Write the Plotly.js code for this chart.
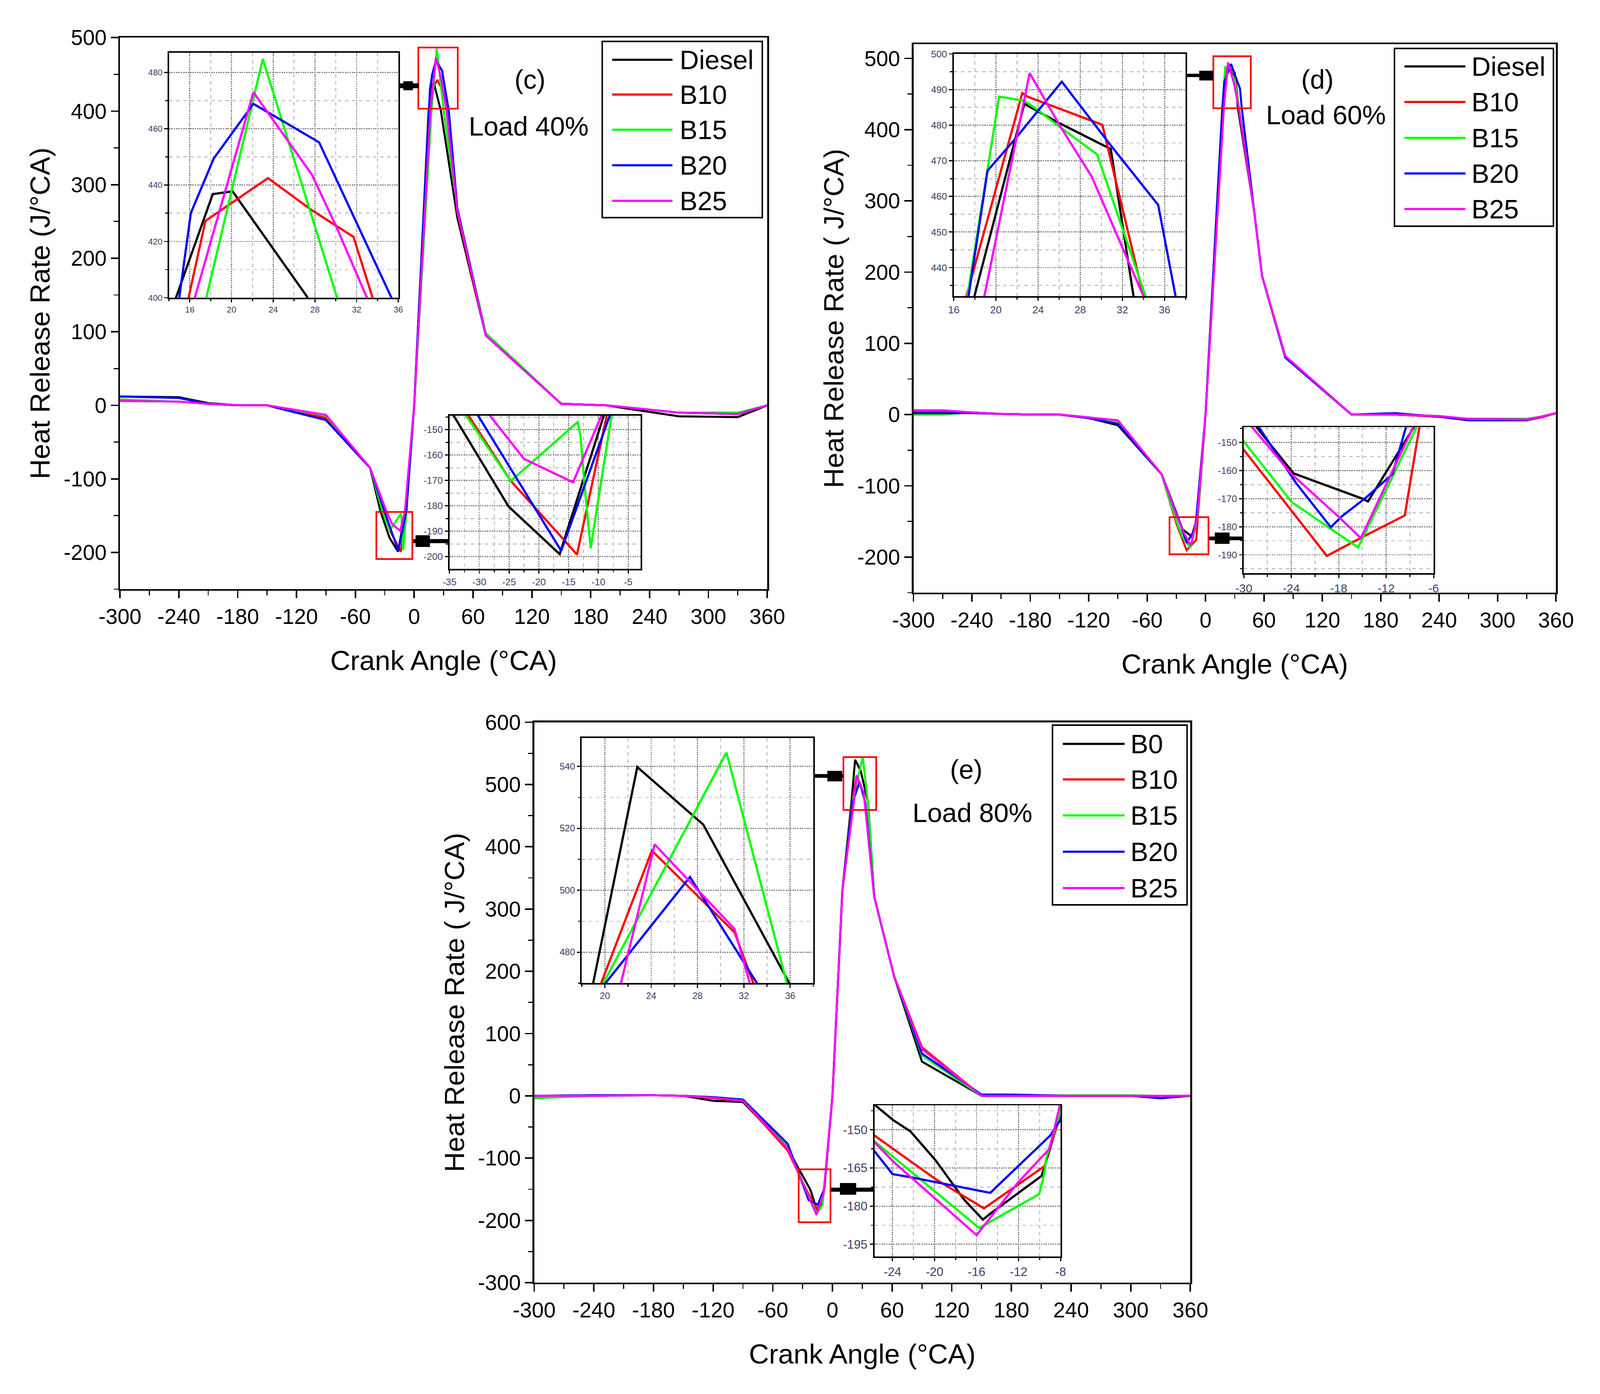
<!DOCTYPE html>
<html><head><meta charset="utf-8">
<script src="https://cdn.plot.ly/plotly-3.0.1.min.js"></script>
<style>html,body{margin:0;padding:0;background:#fff;overflow:hidden}#chart{display:block}</style>
</head><body><div id="chart"></div>
<script>
// ---------------- DATA ----------------
const names_cd = ['Diesel','B10','B15','B20','B25'];
const names_e  = ['B0','B10','B15','B20','B25'];
const colors   = ['#000000','#ff0000','#00ff00','#0000ff','#ff00ff'];

// Panel (c) Load 40%
const c_diesel_x = [-300,-240,-210,-180,-150,-90,-45,-34.3,-25.1,-16.5,-9.1,0,14.7,18.2,20.1,27.2,44,73,150,195,270,330,360];
const c_diesel_y = [12,11,3,0,0,-20,-85,-144.5,-180.2,-199,-144.5,0,400.3,436.8,437.8,400.6,255,95,2,0,-15,-16,0];
const c_b10_x = [-300,-240,-210,-180,-150,-90,-45,-31.8,-24.7,-15.9,-13.6,-8.6,0,15.9,17.5,23.5,27.7,31.7,33.5,44,73,150,195,270,330,360];
const c_b10_y = [6,5,2,0,0,-17,-85,-144.5,-170.2,-193.1,-199.2,-144.5,0,400.3,427.3,442.5,431.1,421.6,400.3,262,95,2,0,-10,-12,0];
const c_b15_x = [-300,-240,-210,-180,-150,-90,-45,-32.2,-24.7,-13.5,-13.0,-12.4,-11.3,-7.8,0,17.6,23.0,30.1,44,73,150,195,270,330,360];
const c_b15_y = [8,5,2,0,0,-14,-85,-144.5,-170.2,-147,-152.5,-170,-196.7,-144.5,0,400.3,484.8,400.3,268,98,2,0,-10,-10,0];
const c_b20_x = [-300,-240,-210,-180,-150,-90,-45,-30.2,-16.25,-8.1,0,15.0,16.1,18.3,22.1,28.4,35.3,44,73,150,195,270,330,360];
const c_b20_y = [12,10,2,0,0,-20,-85,-144.5,-197.7,-144.5,0,400.3,430.1,449.5,468.9,455.2,400.3,268,95,2,0,-10,-12,0];
const c_b25_x = [-300,-240,-210,-180,-150,-90,-45,-28.2,-22.5,-14.25,-9.5,0,16.5,22.1,27.7,30.1,32.95,44,73,150,195,270,330,360];
const c_b25_y = [6,5,2,0,0,-13,-85,-144.5,-161.5,-170.7,-144.5,0,400.3,473,443.8,424.8,400.3,265,95,2,0,-10,-12,0];

// Panel (d) Load 60%
const d_diesel_x = [-300,-270,-240,-210,-180,-150,-120,-90,-45,-28.4,-23.7,-15.0,-14.3,-8.5,0,17.96,22.7,26.0,30.9,33.06,50,58,82,150,195,240,270,330,345,360];
const d_diesel_y = [4,4,3,1,0,0,-5,-15,-84,-144.5,-161,-170,-171,-144.5,0,432,486,480.6,473.3,432,285,195,80,0,0,-3,-6,-6,-3,2];
const d_b10_x = [-300,-270,-240,-210,-180,-150,-120,-90,-45,-30,-19.5,-14.8,-9.65,-7.8,0,17.2,22.5,23.0,30.1,34.0,50,58,82,150,195,240,270,330,345,360];
const d_b10_y = [5,5,3,1,0,0,-4,-10,-84,-152.6,-190.4,-183.4,-176,-144.5,0,432,489,488,480.1,432,285,195,80,0,0,-3,-8,-8,-4,2];
const d_b15_x = [-300,-270,-240,-210,-180,-150,-120,-90,-45,-30,-23.95,-19.3,-15.55,-8.15,0,17.3,20.3,21.0,22.7,24.0,26.2,29.6,34.2,50,58,82,150,195,240,270,330,345,360];
const d_b15_y = [0,0,3,1,0,0,-4,-10,-84,-149.6,-171.2,-180.2,-187.4,-144.5,0,432,488,487.7,486.8,484.2,479.2,471.8,432,285,195,82,0,0,-2,-6,-6,-3,2];
const d_b20_x = [-300,-270,-240,-210,-180,-150,-120,-90,-45,-28.1,-23.4,-19.0,-17.7,-14.5,-11.2,-9.5,0,17.4,19.2,21.7,26.25,30.9,35.4,37.05,50,58,82,150,195,240,270,330,345,360];
const d_b20_y = [2,2,2,1,0,0,-5,-13,-84,-144.5,-164.4,-180.2,-176.5,-169.5,-161.2,-144.5,0,432,467.2,475.7,492.2,474.3,457.6,432,285,195,80,0,2,-3,-8,-8,-3,2];
const d_b25_x = [-300,-270,-240,-210,-180,-150,-120,-90,-45,-28.95,-23.9,-18.0,-15.2,-8.6,0,18.9,23.2,26.2,29.1,34.0,50,58,82,150,195,240,270,330,345,360];
const d_b25_y = [6,6,3,1,0,0,-4,-8,-84,-144.5,-161.4,-176.5,-184.1,-144.5,0,432,494.6,479.2,465.5,432,285,195,82,0,0,-2,-6,-7,-3,2];

// Panel (e) Load 80%
const e_b0_x = [-300,-240,-180,-150,-120,-90,-45,-25.6,-24.0,-22.3,-19.9,-17.2,-15.4,-14.55,-9.8,-8.0,0,10,19.0,22.8,28.5,35.9,42,62,90,150,180,240,300,330,360];
const e_b0_y = [0,1,1,0,-8,-10,-85,-140.5,-146,-150.6,-162,-177.4,-185.3,-182.5,-168.1,-143.6,0,330,470.2,539.8,521.2,470.2,320,192,55,0,0,0,0,0,0];
const e_b10_x = [-300,-240,-180,-150,-120,-90,-45,-25.7,-19.9,-15.3,-9.47,-9.35,-8.0,0,10,19.7,24.06,31.2,32.8,42,62,90,150,180,240,300,330,360];
const e_b10_y = [0,0,1,0,-4,-8,-88,-152.3,-169.4,-180.9,-164.1,-161,-144,0,330,470.2,512.8,486.4,470.2,320,192,78,0,0,0,0,0,0];
const e_b15_x = [-300,-240,-180,-150,-120,-90,-45,-25.7,-15.75,-10.05,-9.65,-9.3,-8.0,0,10,19.9,30.5,35.7,42,62,90,150,180,240,300,330,360];
const e_b15_y = [-4,0,1,0,-2,-6,-82,-154.6,-188.6,-175.3,-169,-160,-142.5,0,330,470.2,544.5,470.2,320,192,65,0,0,1,1,0,0];
const e_b20_x = [-300,-240,-180,-150,-120,-90,-45,-25.7,-24.0,-22.2,-16.0,-14.7,-9.0,-8.0,0,10,20.1,27.35,33.1,42,62,90,150,180,240,300,330,360];
const e_b20_y = [0,1,1,0,-2,-6,-77,-158.5,-167.4,-168.7,-173.8,-174.8,-152.3,-146,0,330,470.2,504.3,470.2,320,192,68,2,2,0,0,-4,0];
const e_b25_x = [-300,-240,-180,-150,-120,-90,-45,-25.7,-23.8,-16.0,-12.05,-9.05,-8.0,0,10,21.4,24.3,31.2,32.5,42,62,90,150,180,240,300,330,360];
const e_b25_y = [0,0,1,0,-3,-8,-84,-155,-163,-191.4,-170.7,-157.4,-141,0,330,470.2,514.8,487.5,470.2,320,192,75,0,0,0,0,0,0];

// Tick values
const main_x_ticks = [-300,-240,-180,-120,-60,0,60,120,180,240,300,360];
const c_y_ticks = [-200,-100,0,100,200,300,400,500];
const d_y_ticks = [-200,-100,0,100,200,300,400,500];
const e_y_ticks = [-300,-200,-100,0,100,200,300,400,500,600];
const ct_x_ticks = [16,20,24,28,32,36];   const ct_y_ticks = [400,420,440,460,480];
const cb_x_ticks = [-35,-30,-25,-20,-15,-10,-5]; const cb_y_ticks = [-200,-190,-180,-170,-160,-150];
const dt_x_ticks = [16,20,24,28,32,36];   const dt_y_ticks = [440,450,460,470,480,490,500];
const db_x_ticks = [-30,-24,-18,-12,-6];  const db_y_ticks = [-190,-180,-170,-160,-150];
const et_x_ticks = [20,24,28,32,36];      const et_y_ticks = [480,500,520,540];
const eb_x_ticks = [-24,-20,-16,-12,-8];  const eb_y_ticks = [-195,-180,-165,-150];

// ---------------- LAYOUT HELPERS ----------------
const W = 4328, H = 3568;                 // reference frame (pixels)
const VW = window.innerWidth || W, VH = window.innerHeight || H;
const S = Math.min(VW / W, VH / H);       // size scale to the real viewport
const z = v => v * S;
const FONT = 'Arial, "Liberation Sans", sans-serif';
const fx = p => p / W;
const fy = p => 1 - p / H;
const domX = (a, b) => [fx(a), fx(b)];
const domY = (top, bot) => [fy(bot), fy(top)];

function mainAxis(dom, anchor, range, ticks, minorD, title, standoff, isX) {
  return {
    domain: dom, anchor: anchor, range: range,
    tickmode: 'array', tickvals: ticks, ticktext: ticks.map(String),
    ticks: 'outside', ticklen: z(20), tickwidth: z(4), tickcolor: '#000',
    showline: true, linewidth: z(4.5), linecolor: '#000', mirror: true,
    showgrid: false, zeroline: false,
    tickfont: {family: FONT, size: z(58), color: '#000'},
    ticklabelstandoff: z(isX ? 14 : 28),
    minor: {tickmode: 'linear', tick0: 0, dtick: minorD, ticks: 'outside', ticklen: z(12), tickwidth: z(3), tickcolor: '#000', showgrid: false},
    title: {text: title, font: {family: FONT, size: z(75), color: '#000'}, standoff: z(standoff)}
  };
}
function insetAxis(dom, anchor, range, ticks, minorD, fsize) {
  return {
    domain: dom, anchor: anchor, range: range,
    tickmode: 'array', tickvals: ticks, ticktext: ticks.map(String),
    ticks: 'outside', ticklen: z(9), tickwidth: z(3), tickcolor: '#000',
    showline: true, linewidth: z(4), linecolor: '#000', mirror: true,
    showgrid: true, gridcolor: '#7a7a7a', gridwidth: z(3), griddash: 'dot',
    zeroline: false,
    tickfont: {family: FONT, size: z(fsize), color: '#3a3f66'},
    ticklabelstandoff: z(3),
    minor: {tickmode: 'linear', tick0: 0, dtick: minorD, ticks: 'outside', ticklen: z(6), tickwidth: z(3), tickcolor: '#000',
            showgrid: true, gridcolor: '#c4c4c4', gridwidth: z(3), griddash: 'dash'}
  };
}

const layout = {
  width: VW, height: VH, margin: {l: 0, r: 0, t: 0, b: 0, pad: 0},
  paper_bgcolor: '#ffffff', plot_bgcolor: '#ffffff', showlegend: false,
  font: {family: FONT, color: '#000'},
  shapes: [], annotations: []
};

const yTitleCD = 'Heat Release Rate (J/°CA)';
const yTitleDE = 'Heat Release Rate ( J/°CA)';
const xTitle = 'Crank Angle (°CA)';

// Panel c axes
layout.xaxis  = mainAxis(domX(324.5, 2075.5), 'y',  [-300, 360], main_x_ticks, 30, xTitle, 62, true);
layout.yaxis  = mainAxis(domY(96.2, 1508),    'x',  [-250, 500], c_y_ticks, 50, yTitleCD, 14, false);
layout.xaxis2 = insetAxis(domX(457, 1077.6),  'y2', [14, 36], ct_x_ticks, 2, 23);
layout.yaxis2 = insetAxis(domY(134.6, 762),   'x2', [400, 487.1], ct_y_ticks, 10, 23);
layout.xaxis3 = insetAxis(domX(1216, 1733),   'y3', [-35, -2.9], cb_x_ticks, 2.5, 26);
layout.yaxis3 = insetAxis(domY(1064, 1456),   'x3', [-204.8, -144.5], cb_y_ticks, 5, 26);
// Panel d axes
layout.xaxis4 = mainAxis(domX(2471, 4209),    'y4', [-300, 360], main_x_ticks, 30, xTitle, 62, true);
layout.yaxis4 = mainAxis(domY(113, 1517),     'x4', [-250, 520], d_y_ticks, 50, yTitleDE, 14, false);
layout.xaxis5 = insetAxis(domX(2580, 3207),   'y5', [16, 38], dt_x_ticks, 2, 28);
layout.yaxis5 = insetAxis(domY(138, 758),     'x5', [432, 500], dt_y_ticks, 5, 26);
layout.xaxis6 = insetAxis(domX(3364.5, 3878), 'y6', [-30, -6], db_x_ticks, 3, 32);
layout.yaxis6 = insetAxis(domY(1093.3, 1467.3),'x6', [-196.6, -144.5], db_y_ticks, 5, 26);
// Panel e axes
layout.xaxis7 = mainAxis(domX(1445, 3220),    'y7', [-300, 360], main_x_ticks, 30, xTitle, 62, true);
layout.yaxis7 = mainAxis(domY(1848.5, 3283),  'x7', [-300, 600], e_y_ticks, 50, yTitleDE, 14, false);
layout.xaxis8 = insetAxis(domX(1573.5, 2200), 'y8', [18, 38], et_x_ticks, 2, 25);
layout.yaxis8 = insetAxis(domY(1888.8, 2516.4),'x8', [470, 549.2], et_y_ticks, 10, 25);
layout.xaxis9 = insetAxis(domX(2366, 2869),   'y9', [-25.7, -8], eb_x_ticks, 2, 33);
layout.yaxis9 = insetAxis(domY(2829.3, 3216), 'x9', [-199.8, -140.4], eb_y_ticks, 7.5, 33);

// ---------------- TRACES ----------------
const panels = [
  {names: names_cd, series: [[c_diesel_x,c_diesel_y],[c_b10_x,c_b10_y],[c_b15_x,c_b15_y],[c_b20_x,c_b20_y],[c_b25_x,c_b25_y]], axes: [['x','y'],['x2','y2'],['x3','y3']]},
  {names: names_cd, series: [[d_diesel_x,d_diesel_y],[d_b10_x,d_b10_y],[d_b15_x,d_b15_y],[d_b20_x,d_b20_y],[d_b25_x,d_b25_y]], axes: [['x4','y4'],['x5','y5'],['x6','y6']]},
  {names: names_e,  series: [[e_b0_x,e_b0_y],[e_b10_x,e_b10_y],[e_b15_x,e_b15_y],[e_b20_x,e_b20_y],[e_b25_x,e_b25_y]], axes: [['x7','y7'],['x8','y8'],['x9','y9']]}
];
const traces = [];
panels.forEach(p => {
  p.axes.forEach((ax, k) => {
    p.series.forEach((s, i) => {
      traces.push({type: 'scatter', mode: 'lines', x: s[0], y: s[1], name: p.names[i],
        xaxis: ax[0], yaxis: ax[1], hoverinfo: 'skip',
        line: {color: colors[i], width: z(k === 0 ? 5.5 : 6)}});
    });
  });
});

// ---------------- DECORATIONS ----------------
function redBox(xr, yr, x0, x1, y0, y1) {
  layout.shapes.push({type: 'rect', xref: xr, yref: yr, x0, x1, y0, y1, line: {color: '#ff0000', width: z(4.5)}, fillcolor: 'rgba(0,0,0,0)', layer: 'above'});
}
redBox('x', 'y', 4.2, 44.4, 403.3, 486.5);
redBox('x', 'y', -38.6, -1.9, -209, -145);
redBox('x4', 'y4', 8, 46.5, 430, 503);
redBox('x4', 'y4', -37, 3, -196, -144);
redBox('x7', 'y7', 11, 44, 459, 544);
redBox('x7', 'y7', -34, -2, -203, -118);

function arrow(sx0, sx1, sy, sw, bx0, bx1, by0, by1) {
  layout.shapes.push({type: 'line', xref: 'paper', yref: 'paper', x0: fx(sx0), x1: fx(sx1), y0: fy(sy), y1: fy(sy), line: {color: '#000', width: z(sw)}});
  layout.shapes.push({type: 'rect', xref: 'paper', yref: 'paper', x0: fx(bx0), x1: fx(bx1), y0: fy(by1), y1: fy(by0), line: {width: 0}, fillcolor: '#000'});
}
arrow(1080, 1133, 219.5, 13, 1091, 1117, 208, 231);
arrow(1118, 1216, 1385, 11, 1124, 1163, 1370, 1400);
arrow(3207, 3281, 193, 9, 3244, 3281, 181, 206);
arrow(3270, 3364, 1378, 10, 3286, 3326, 1363, 1392);
arrow(2200, 2281, 1986, 10, 2238, 2278, 1973, 2000);
arrow(2247, 2366, 3045, 11, 2272, 2316, 3028, 3058);

function legend(names, box, ys, lx0, lx1, tx) {
  layout.shapes.push({type: 'rect', xref: 'paper', yref: 'paper', x0: fx(box[0]), x1: fx(box[1]), y0: fy(box[3]), y1: fy(box[2]), line: {color: '#000', width: z(4)}, fillcolor: '#ffffff', layer: 'above'});
  names.forEach((n, i) => {
    layout.shapes.push({type: 'line', xref: 'paper', yref: 'paper', x0: fx(lx0), x1: fx(lx1), y0: fy(ys[i]), y1: fy(ys[i]), line: {color: colors[i], width: z(6)}, layer: 'above'});
    layout.annotations.push({xref: 'paper', yref: 'paper', x: fx(tx), y: fy(ys[i]), xanchor: 'left', yanchor: 'middle', text: n, showarrow: false, font: {family: FONT, size: z(72), color: '#000'}});
  });
}
legend(names_cd, [1629, 2062, 106, 557], [153, 242, 332, 423, 514], 1656, 1819, 1836);
legend(names_cd, [3772, 4202, 124, 579], [170, 261, 353, 444, 535], 3799, 3964, 3978);
legend(names_e,  [2847, 3211, 1856, 2316], [1904, 1995, 2087, 2180, 2273], 2875, 3042, 3056);

function label(text, x, y) {
  layout.annotations.push({xref: 'paper', yref: 'paper', x: fx(x), y: fy(y), xanchor: 'center', yanchor: 'middle', text, showarrow: false, font: {family: FONT, size: z(72), color: '#000'}});
}
label('(c)', 1433, 203);  label('Load 40%', 1430, 323);
label('(d)', 3564, 203);  label('Load 60%', 3587, 294);
label('(e)', 2614, 1969); label('Load 80%', 2631, 2080);

const el = document.getElementById('chart');
el.style.width = VW + 'px'; el.style.height = VH + 'px';
Plotly.newPlot(el, traces, layout, {staticPlot: true, displayModeBar: false});
</script></body></html>
